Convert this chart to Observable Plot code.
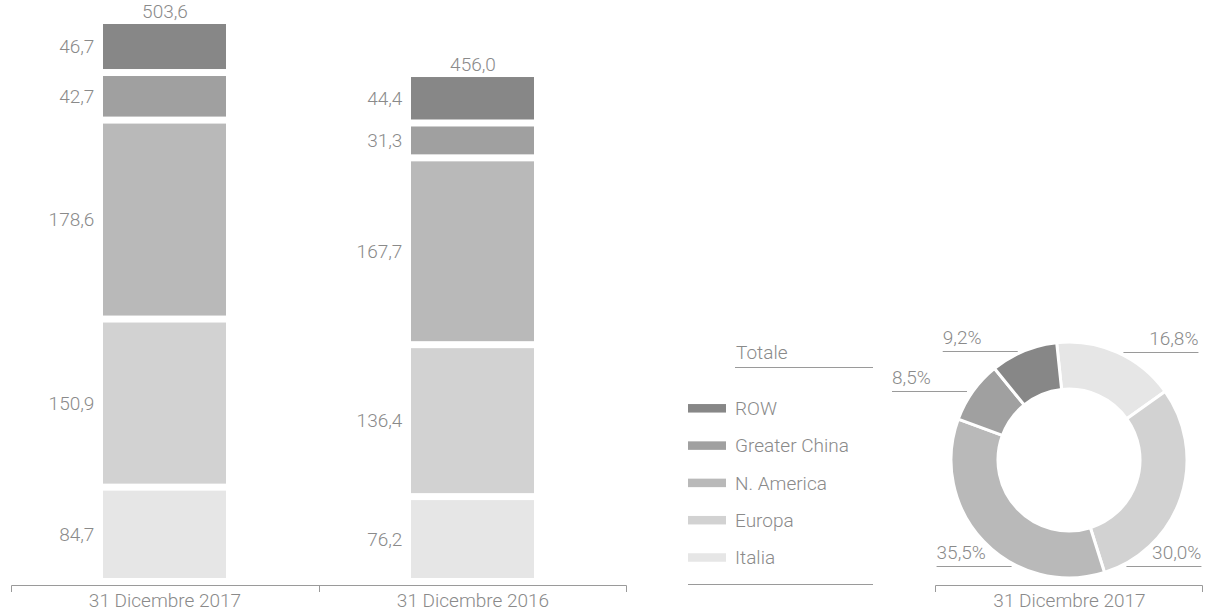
<!DOCTYPE html>
<html>
<head>
<meta charset="utf-8">
<script src="https://cdn.jsdelivr.net/npm/d3@7"></script>
<script src="https://cdn.jsdelivr.net/npm/@observablehq/plot@0.6"></script>
<style>
  html, body { margin: 0; padding: 0; background: #fff; }
  #root { position: relative; width: 1205px; height: 611px; overflow: hidden;
          font-family: Roboto, "Liberation Sans", "DejaVu Sans", sans-serif; font-weight: 300; color: #8c8c8c; }
  #root > * { position: absolute; top: 0; }
  #root svg text { font-weight: 300; }
</style>
</head>
<body>
<div id="root"></div>
<script>
// ---- data ----
const dates = ["31 Dicembre 2017", "31 Dicembre 2016"];
const regions = ["Italia", "Europa", "N. America", "Greater China", "ROW"]; // stack bottom -> top
const values2017 = [84.7, 150.9, 178.6, 42.7, 46.7];
const values2016 = [76.2, 136.4, 167.7, 31.3, 44.4];
const totals = [503.6, 456.0];
const shares2017 = [16.8, 30.0, 35.5, 8.5, 9.2];
const donutDate = "31 Dicembre 2017";
const legendTitle = "Totale";
const colors = ["#e6e6e6", "#d2d2d2", "#b9b9b9", "#a0a0a0", "#878787"];

// ---- tables built from the arrays ----
const seriesByDate = [values2017, values2016];
const rows = dates.flatMap((date, i) => regions.map((region, j) => ({date, region, value: seriesByDate[i][j]})));
const totalRows = dates.map((date, i) => ({date, total: totals[i]}));
const slices = regions.map((region, j) => ({region, share: shares2017[j]}));

const TEXT = "#8a8a8a", LINE = "#9a9a9a", FONT = 'Roboto, "Liberation Sans", "DejaVu Sans", sans-serif', FS = 19;
const fmt = v => v.toFixed(1).replace(".", ",");
const colorScale = Plot.scale({color: {type: "ordinal", domain: regions, range: colors}});

// bracket axis: baseline along the frame bottom with ticks at the band boundaries
function bracket(n) {
  return (index, scales, values, dim) => {
    const x0 = dim.marginLeft, x1 = dim.width - dim.marginRight, yb = dim.height - dim.marginBottom;
    const g = d3.create("svg:g").attr("fill", "none").attr("stroke", LINE).attr("stroke-width", 1);
    let d = `M${x0 + 0.5},${yb + 7}V${yb + 0.5}H${x1 - 0.5}V${yb + 7}`;
    for (let i = 1; i < n; i++) {
      const xi = Math.round(x0 + (x1 - x0) * i / n) + 0.5;
      d += `M${xi},${yb}V${yb + 7}`;
    }
    g.append("path").attr("d", d);
    return g.node();
  };
}

// ---- bar chart ----
const barWidth = 640, mL = 11, mR = 13, pIn = 0.6, pOut = 0.3;
const step = (barWidth - mL - mR) / (dates.length - pIn + 2 * pOut);
const bandW = step * (1 - pIn);

const bars = Plot.plot({
  width: barWidth, height: 611,
  marginLeft: mL, marginRight: mR, marginTop: 0, marginBottom: 26,
  style: {fontFamily: FONT, fontSize: FS + "px", color: TEXT, background: "transparent", overflow: "visible"},
  x: {domain: dates, paddingInner: pIn, paddingOuter: pOut, label: null},
  y: {domain: [0, d3.max(totals)], range: [578, 17], axis: null},
  color: {domain: regions, range: colors},
  marks: [
    Plot.barY(rows, {x: "date", y: "value", fill: "region", order: regions, insetTop: 7}),
    Plot.text(rows, Plot.stackY({x: "date", y: "value", z: "region", order: regions,
      text: d => fmt(d.value), textAnchor: "end", dx: -(bandW / 2 + 9), dy: 3.5, fill: TEXT, fontSize: FS})),
    Plot.text(totalRows, {x: "date", y: "total", text: d => fmt(d.total), lineAnchor: "bottom", dy: 0, fill: TEXT, fontSize: FS}),
    Plot.axisX({tickSize: 0, tickPadding: 8, fontSize: FS, fill: TEXT, label: null}),
    bracket(dates.length)
  ]
});
bars.style.left = "0px";
document.getElementById("root").appendChild(bars);

// ---- legend ----
const legend = d3.create("svg").attr("width", 210).attr("height", 270)
  .style("left", "680px").style("top", "330px")
  .style("font-family", FONT).style("font-size", FS + "px");
legend.append("text").attr("x", 56).attr("y", 29).attr("fill", TEXT).text(legendTitle);
legend.append("line").attr("x1", 55).attr("x2", 193).attr("y1", 37.5).attr("y2", 37.5).attr("stroke", LINE);
const legendItems = regions.slice().reverse();
legendItems.forEach((region, i) => {
  const cy = 78.3 + 37.3 * i;
  legend.append("rect").attr("x", 8).attr("y", cy - 4.25).attr("width", 38).attr("height", 8.5).attr("fill", colorScale.apply(region));
  legend.append("text").attr("x", 55).attr("y", cy + 6.8).attr("fill", TEXT).text(region);
});
legend.append("line").attr("x1", 8).attr("x2", 193).attr("y1", 254.5).attr("y2", 254.5).attr("stroke", LINE);
document.getElementById("root").appendChild(legend.node());

// ---- donut ----
function donutMark(index, scales, values, dim) {
  const cx = (dim.marginLeft + dim.width - dim.marginRight) / 2;
  const yb = dim.height - dim.marginBottom;
  const R = 118, r = 71, cy = yb - 7 - R;
  const start = -6 * Math.PI / 180;
  const arcs = d3.pie().sort(null).value(d => d.share).startAngle(start).endAngle(start + 2 * Math.PI)(slices);
  const arc = d3.arc().innerRadius(r).outerRadius(R);
  const g = d3.create("svg:g");
  g.append("g").attr("transform", `translate(${cx},${cy})`)
    .selectAll("path").data(arcs).join("path")
    .attr("d", arc).attr("fill", d => colorScale.apply(d.data.region))
    .attr("stroke", "#fff").attr("stroke-width", 3).attr("stroke-linejoin", "round");
  for (const a of arcs) {
    const mid = (a.startAngle + a.endAngle) / 2;
    const c = Math.cos(mid), side = Math.sin(mid) >= 0 ? 1 : -1;
    const dy = c < 0 ? 0.9 * R : -R * c;
    const xa = cx + side * Math.sqrt(R * R - dy * dy);
    const xs = xa + side * 6, xe = xa + side * 81, ly = Math.round(cy + dy) + 0.5;
    g.append("line").attr("x1", xs).attr("x2", xe).attr("y1", ly).attr("y2", ly).attr("stroke", LINE);
    g.append("text").attr("x", xe).attr("y", ly - 8)
      .attr("text-anchor", side > 0 ? "end" : "start").attr("fill", TEXT)
      .attr("font-size", FS).text(fmt(a.data.share) + "%");
  }
  return g.node();
}

const donut = Plot.plot({
  width: 320, height: 611,
  marginLeft: 50, marginRight: 2, marginTop: 0, marginBottom: 26,
  style: {fontFamily: FONT, fontSize: FS + "px", color: TEXT, background: "transparent", overflow: "visible"},
  marks: [
    donutMark,
    Plot.text([donutDate], {text: d => d, frameAnchor: "bottom", lineAnchor: "top", dy: 8, fill: TEXT, fontSize: FS}),
    bracket(1)
  ]
});
donut.style.left = "885px";
document.getElementById("root").appendChild(donut);
</script>
</body>
</html>
